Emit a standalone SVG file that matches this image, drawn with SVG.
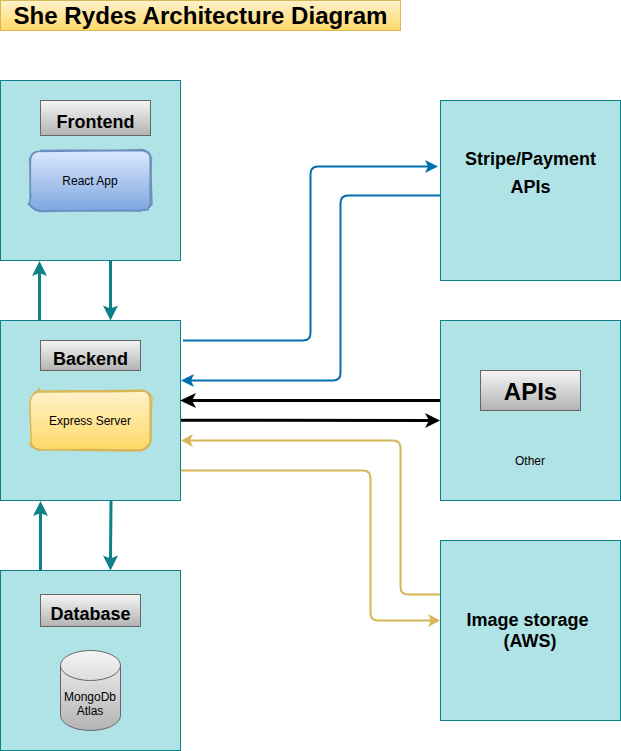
<svg xmlns="http://www.w3.org/2000/svg" width="621" height="751" viewBox="0 0 621 751">
<style>
text{font-family:"Liberation Sans",Arial,sans-serif;fill:#000;text-anchor:middle}
.box{fill:#b0e3e6;stroke:#0e8088;stroke-width:1}
.hd{fill:url(#gray);stroke:#666;stroke-width:1}
.b{font-weight:bold}
.c{fill:none;stroke-linejoin:round}
.t{stroke:#0e8088;stroke-width:3}
.bl{stroke:#006eaf;stroke-width:2}
.k{stroke:#000;stroke-width:3}
.y{stroke:#d6b656;stroke-width:2}
.ta{fill:#0e8088}
.sb{fill:none;stroke:#6c8ebf;stroke-width:1.500}
.sy{fill:none;stroke:#d6b656;stroke-width:1.500}
</style>
<defs>
<linearGradient id="gray" x1="0" y1="0" x2="0" y2="1"><stop offset="0" stop-color="#f5f5f5"/><stop offset="1" stop-color="#b3b3b3"/></linearGradient>
<linearGradient id="blue" x1="0" y1="0" x2="0" y2="1"><stop offset="0" stop-color="#dae8fc"/><stop offset="1" stop-color="#7ea6e0"/></linearGradient>
<linearGradient id="yel" x1="0" y1="0" x2="0" y2="1"><stop offset="0" stop-color="#fff2cc"/><stop offset="1" stop-color="#ffd966"/></linearGradient>
</defs>
<g id="title"><rect x="0.5" y="0.5" width="400" height="30" fill="url(#yel)" stroke="#d6b656"/><text class="b" x="200.500" y="24" font-size="24.100">She Rydes Architecture Diagram</text></g>
<g id="frontend"><rect class="box" x="0.500" y="80.500" width="180" height="180"/>
<rect class="hd" x="40.500" y="100.500" width="110" height="35"/><text class="b" x="95.500" y="127.500" font-size="18">Frontend</text>
<rect x="30" y="151" width="121" height="60" rx="9" fill="url(#blue)"/>
<path class="sb" d="M40 150.500C70 150 110 151 142 149.500Q150 151 151.500 158C150.500 175 151.500 190 152 204Q149 210 140 211C110 211 70 210.500 38 210.500Q31 208 28 203"/>
<path class="sb" d="M38 151.500C70 151.500 110 150.500 140 150.500Q148 151 150 156C150.500 175 149.500 190 150.500 203L148 210C110 210 70 211 40 211.500Q33 210 29.500 204C31 190 30 170 30.500 160Q31.500 152 38 151.500Z"/>
<path class="sb" d="M31 198C29.500 185 31 170 29.500 160Q31 153 36 152"/>
<text x="90" y="185" font-size="12">React App</text></g>
<g id="backend"><rect class="box" x="0.500" y="320.500" width="180" height="180"/>
<rect class="hd" x="40.500" y="340.500" width="100" height="30"/><text class="b" x="90.500" y="364.500" font-size="18">Backend</text>
<rect x="30" y="391" width="121" height="59" rx="9" fill="url(#yel)"/>
<path class="sy" d="M33 394L38 391L39 388.500L40 391C70 390.500 110 391 141 390Q150 391 152 398C150.500 415 151.500 430 151 441Q149 449 140 451C110 451 70 450 40 449.500Q31 448 29 443"/>
<path class="sy" d="M38 392C70 391.500 110 392 144 391Q150 393 150 400C150 415 150.500 430 150 442Q147 448 142 449.500C110 450 70 449 38 450Q32 447 31 442C31 430 30 415 30 402Q31 393 38 392Z"/>
<text x="90" y="425" font-size="12">Express Server</text></g>
<g id="database"><rect class="box" x="0.500" y="570.500" width="180" height="180"/>
<rect class="hd" x="40.500" y="594.500" width="100" height="32"/><text class="b" x="90.500" y="619.500" font-size="18">Database</text>
<path d="M60.500 665.500A30 15 0 0 1 120.500 665.500L120.500 715.500A30 15 0 0 1 60.500 715.500Z" fill="url(#gray)" stroke="#666"/><path d="M60.500 665.500A30 15 0 0 0 120.500 665.500" fill="none" stroke="#666"/>
<text x="90" y="701" font-size="12">MongoDb</text><text x="90" y="715" font-size="12">Atlas</text></g>
<g id="stripe"><rect class="box" x="440.500" y="100.500" width="180" height="180"/><text class="b" x="530.500" y="165" font-size="18">Stripe/Payment</text><text class="b" x="530.500" y="193" font-size="18">APIs</text></g>
<g id="apis"><rect class="box" x="440.500" y="320.500" width="180" height="180"/><rect class="hd" x="480.500" y="370.500" width="100" height="40"/><text class="b" x="530.500" y="399.500" font-size="24">APIs</text><text x="530" y="465" font-size="12">Other</text></g>
<g id="images"><rect class="box" x="440.500" y="540.500" width="180" height="180"/><text class="b" x="527.500" y="626" font-size="18">Image storage</text><text class="b" x="530" y="647" font-size="18">(AWS)</text></g>
<g id="connectors">
<path class="c t" d="M39.500 320V272"/><path class="ta" d="M39.500 261L47 276L39.500 273L32 276Z"/>
<path class="c t" d="M110.500 261V309"/><path class="ta" d="M110.500 320.500L103 305.500L110.500 308.500L118 305.500Z"/>
<path class="c t" d="M40.500 570V512"/><path class="ta" d="M40.500 501L48 516L40.500 513L33 516Z"/>
<path class="c t" d="M111 501L110.500 559"/><path class="ta" d="M110.500 570.500L103 555.500L110.500 558.500L118 555.500Z"/>
<path class="c bl" d="M183 340.500H303Q310.500 340.500 310.500 333V174Q310.500 166.500 318 166.500H430"/><path d="M438 166.500L425 173L428 166.500L425 160Z" fill="#006eaf"/>
<path class="c bl" d="M440 195.500H348Q340.500 195.500 340.500 203V373Q340.500 380.500 333 380.500H188"/><path d="M181 380.500L194 374L191 380.500L194 387Z" fill="#006eaf"/>
<path class="c k" d="M440 400.500H190"/><path d="M180 400.500L196 393L192 400.500L196 408Z" fill="#000"/>
<path class="c k" d="M181 420.200L430 420.500"/><path d="M440 420.500L425 428L429 420.500L425 413Z" fill="#000"/>
<path class="c y" d="M440 594.500H408Q400.500 594.500 400.500 587V448Q400.500 440.500 393 440.500H188"/><path d="M181 440.500L193 434L190 440.500L193 447Z" fill="#d6b656"/>
<path class="c y" d="M181 470.500H363Q370.500 470.500 370.500 478V613Q370.500 620.500 378 620.500H432"/><path d="M440 620.500L428 627L431 620.500L428 614Z" fill="#d6b656"/>
</g>
</svg>
